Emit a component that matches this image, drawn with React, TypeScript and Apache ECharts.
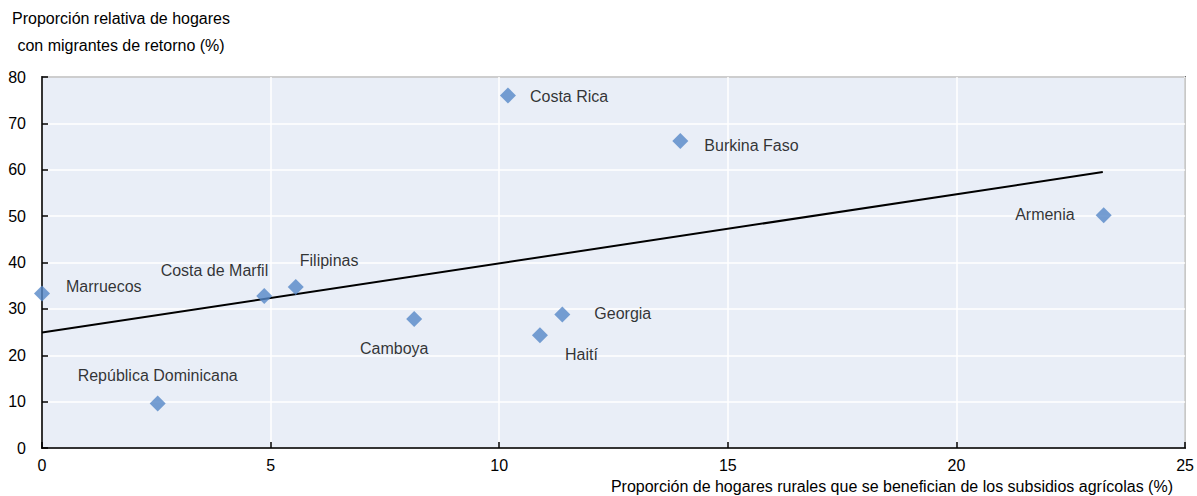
import React, { useEffect, useRef } from "react";
import * as echarts from "echarts";

const countries = [
  "Marruecos",
  "República Dominicana",
  "Costa de Marfil",
  "Filipinas",
  "Camboya",
  "Costa Rica",
  "Haití",
  "Georgia",
  "Burkina Faso",
  "Armenia",
];
const subsidyShare = [0, 2.53, 4.86, 5.55, 8.14, 10.19, 10.89, 11.38, 13.96, 23.22];
const returnShare = [33.3, 9.6, 32.8, 34.7, 27.8, 76.0, 24.3, 28.8, 66.2, 50.2];

const trendX = [0, 23.2];
const trendY = [24.9, 59.5];

const xTicks = [0, 5, 10, 15, 20, 25];
const yTicks = [0, 10, 20, 30, 40, 50, 60, 70, 80];

const yTitle = "Proporción relativa de hogares\ncon migrantes de retorno (%)";
const xTitle = "Proporción de hogares rurales que se benefician de los subsidios agrícolas (%)";

// label placement (pixels relative to the marker centre)
const labelLayout: { align: "left" | "right" | "center"; dx: number; dy: number }[] = [
  { align: "left", dx: 24, dy: -7 },
  { align: "center", dx: 0, dy: -28 },
  { align: "right", dx: 4, dy: -25 },
  { align: "left", dx: 4, dy: -27 },
  { align: "center", dx: -20, dy: 29 },
  { align: "left", dx: 22, dy: 1 },
  { align: "left", dx: 25, dy: 19 },
  { align: "left", dx: 32, dy: -1 },
  { align: "left", dx: 24, dy: 5 },
  { align: "right", dx: -29, dy: -1 },
];

const FONT = "'Liberation Sans', Arial, sans-serif";
const FS = 16;

export default function App() {
  const ref = useRef<HTMLDivElement>(null);
  useEffect(() => {
    document.body.style.margin = "0";
    if (!ref.current) return;
    const chart = echarts.init(ref.current, undefined, { renderer: "svg" });
    const scatterData = countries.map((name, i) => ({
      name,
      value: [subsidyShare[i], returnShare[i]],
      label: {
        show: true,
        formatter: name,
        position: "inside",
        align: labelLayout[i].align,
        verticalAlign: "middle",
        offset: [labelLayout[i].dx, labelLayout[i].dy],
      },
    }));
    chart.setOption({
      animation: false,
      backgroundColor: "#ffffff",
      textStyle: { fontFamily: FONT },
      grid: {
        left: 42,
        right: 10,
        top: 77,
        bottom: 48,
        show: true,
        backgroundColor: "#e9eef7",
        borderColor: "#000",
        borderWidth: 1.5,
      },
      xAxis: {
        type: "value",
        min: xTicks[0],
        max: xTicks[xTicks.length - 1],
        interval: 5,
        axisLine: { show: true, onZero: false, lineStyle: { color: "#000", width: 1.5 } },
        axisTick: { show: true, inside: true, length: 6, lineStyle: { color: "#000", width: 1.5 } },
        axisLabel: { color: "#000", fontSize: FS, margin: 9, fontFamily: FONT },
        splitLine: { show: true, lineStyle: { color: "#ffffff", width: 1.5 } },
      },
      yAxis: {
        type: "value",
        min: yTicks[0],
        max: yTicks[yTicks.length - 1],
        interval: 10,
        axisLine: { show: true, onZero: false, lineStyle: { color: "#000", width: 1.5 } },
        axisTick: { show: true, inside: true, length: 6, lineStyle: { color: "#000", width: 1.5 } },
        axisLabel: { color: "#000", fontSize: FS, margin: 16, fontFamily: FONT },
        splitLine: { show: true, lineStyle: { color: "#ffffff", width: 1.5 } },
      },
      graphic: [
        {
          type: "text",
          x: 121,
          y: 5,
          style: {
            text: yTitle,
            align: "center",
            verticalAlign: "top",
            fontSize: FS,
            lineHeight: 27,
            fontFamily: FONT,
            fill: "#000",
          },
        },
        {
          type: "text",
          x: 1173,
          y: 486,
          style: {
            text: xTitle,
            align: "right",
            verticalAlign: "middle",
            fontSize: FS,
            fontFamily: FONT,
            fill: "#000",
          },
        },
      ],
      series: [
        {
          type: "line",
          data: trendX.map((x, i) => [x, trendY[i]]),
          symbol: "none",
          lineStyle: { color: "#000", width: 2 },
          silent: true,
          z: 2,
        },
        {
          type: "scatter",
          data: scatterData,
          symbol: "diamond",
          symbolSize: 16,
          clip: false,
          itemStyle: { color: "#5587c7" },
          label: { color: "#000", fontSize: FS, fontFamily: FONT },
          z: 3,
        },
      ],
    });
    return () => chart.dispose();
  }, []);
  return <div ref={ref} style={{ width: 1197, height: 496 }} />;
}
